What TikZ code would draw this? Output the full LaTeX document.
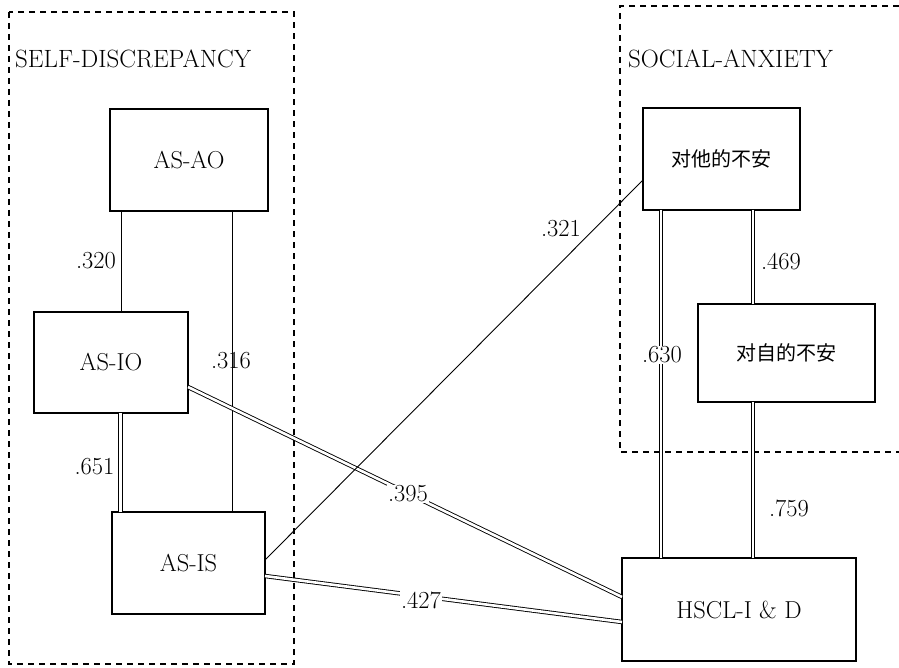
\documentclass[tikz,border=0pt]{standalone}
\usepackage{fontspec}
\newfontfamily\cjk{Noto Sans CJK JP}
\begin{document}
\begin{tikzpicture}[x=1pt,y=-1pt,
  box/.style={draw, line width=1.3pt, inner sep=0pt, outer sep=0pt, font=\fontsize{24.5}{28}\selectfont},
  cjkbox/.style={box, font=\cjk\fontsize{20}{24}\selectfont},
  single/.style={line width=0.9pt},
  dbl/.style={double, double distance=2.6pt, line width=0.9pt},
  grp/.style={dash pattern=on 6pt off 5pt, line width=1.1pt},
  lbl/.style={inner sep=1pt, font=\fontsize{24.5}{28}\selectfont},
  wlbl/.style={lbl, fill=white},
  title/.style={inner sep=0pt, anchor=base west, font=\fontsize{25}{29}\selectfont}
]
\useasboundingbox (0,0) rectangle (899,668);
\clip (0,0) rectangle (899,668);

% group frames
\draw[grp] (9,12) rectangle (294,664);
\draw[grp] (910,6) -- (620,6) -- (620,452) -- (910,452);
\node[title] (t1) at (15,68) {SELF-DISCREPANCY};
\node[title] (t2) at (628,68) {SOCIAL-ANXIETY};

% boxes
\node[box, minimum width=158pt, minimum height=102pt] (ao) at (189,160) {AS-AO};
\node[box, minimum width=154pt, minimum height=101pt] (io) at (111,362.5) {AS-IO};
\node[box, minimum width=153pt, minimum height=102pt] (is) at (188.5,563) {AS-IS};
\node[cjkbox, minimum width=157pt, minimum height=102pt] (ta) at (721.5,159) {对他的不安};
\node[cjkbox, minimum width=177pt, minimum height=98pt] (ji) at (786.5,353) {对自的不安};
\node[box, minimum width=234pt, minimum height=103pt] (hs) at (739,609.5) {HSCL-I \& D};

% connector columns
\coordinate (c1) at (121,0);
\coordinate (c2) at (232,0);
\coordinate (c3) at (120.5,0);
\coordinate (c4) at (661,0);
\coordinate (c5) at (753,0);

\draw[single] (ao.south -| c1) -- (io.north -| c1);
\draw[single] (ao.south -| c2) -- (is.north -| c2);
\draw[dbl] (io.south -| c3) -- (is.north -| c3);
\draw[dbl] (ta.south -| c4) -- (hs.north -| c4);
\draw[dbl] (ta.south -| c5) -- (ji.north -| c5);
\draw[dbl] (ji.south -| c5) -- (hs.north -| c5);

% diagonal connectors (yshift is in page direction: negative = down)
\coordinate (ioR) at ([yshift=-24.5pt]io.east);
\coordinate (hsA) at ([yshift=12.5pt]hs.west);
\coordinate (isR) at ([yshift=-13pt]is.east);
\coordinate (hsB) at ([yshift=-12.5pt]hs.west);
\coordinate (isU) at ([yshift=3pt]is.east);
\coordinate (taL) at ([yshift=-21pt]ta.west);
\draw[dbl] (ioR) -- (hsA);
\draw[dbl] (isR) -- (hsB);
\draw[single] (isU) -- (taL);

% labels
\node[lbl] (l320) at (96,261) {.320};
\node[lbl] (l316) at (231,361) {.316};
\node[lbl] (l651) at (94.5,467) {.651};
\node[wlbl] (l395) at (408,494) {.395};
\node[wlbl] (l427) at (421,600) {.427};
\node[lbl] (l321) at (561,229) {.321};
\node[wlbl] (l630) at (662,355) {.630};
\node[lbl] (l469) at (781,262) {.469};
\node[lbl] (l759) at (789,508) {.759};
\end{tikzpicture}
\end{document}
